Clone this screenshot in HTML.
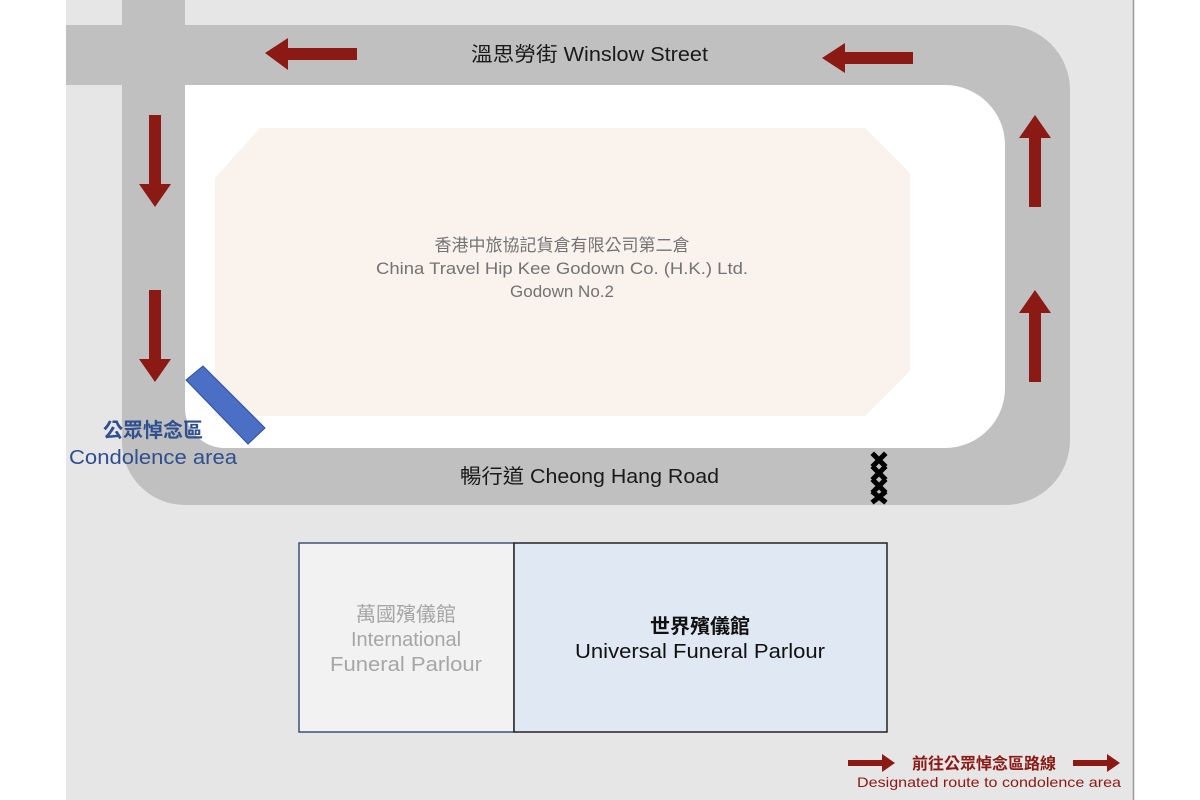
<!DOCTYPE html>
<html><head><meta charset="utf-8"><style>
html,body{margin:0;padding:0;background:#fff;}
svg{display:block;}
text{font-family:"Liberation Sans","Noto Sans CJK TC",sans-serif;}
</style></head><body>
<svg width="1200" height="800" viewBox="0 0 1200 800" xmlns="http://www.w3.org/2000/svg">
<rect x="66" y="0" width="1067" height="800" fill="#e7e6e7"/>
<line x1="1133.5" y1="0" x2="1133.5" y2="800" stroke="#999" stroke-width="1.5"/>
<path d="M122 25 H1005 A65 65 0 0 1 1070 90 V440 A65 65 0 0 1 1005 505 H185 A63 63 0 0 1 122 442 Z" fill="#c0c0c0"/>
<rect x="66" y="25" width="60" height="60" fill="#c0c0c0"/>
<rect x="122" y="0" width="63" height="30" fill="#c0c0c0"/>
<path d="M185 85 H945 A60 60 0 0 1 1005 145 V388 A60 60 0 0 1 945 448 H225 A40 40 0 0 1 185 408 Z" fill="#fff"/>
<polygon points="260,128 865,128 910,173 910,371 865,416 215,416 215,178" fill="#f9f2ed"/>
<g fill="#8b1a14">
<polygon points="265,53 288,38 288,48 357,48 357,60 288,60 288,70"/>
<polygon points="822,58 845,43 845,52 913,52 913,64 845,64 845,73"/>
<polygon points="149,115 161,115 161,184 171,184 155,207 139,184 149,184"/>
<polygon points="149,290 161,290 161,359 171,359 155,382 139,359 149,359"/>
<polygon points="1035,115 1051,138 1041,138 1041,207 1029,207 1029,138 1019,138"/>
<polygon points="1035,290 1051,313 1041,313 1041,382 1029,382 1029,313 1019,313"/>
<polygon points="848,760 882,760 882,754 895,763 882,772 882,766 848,766"/>
<polygon points="1073,760 1107,760 1107,754 1120,763 1107,772 1107,766 1073,766"/>
</g>
<polygon points="186,380 203,366 265,428 248,444" fill="#4a6fc4" stroke="#2f4f9a" stroke-width="1"/>
<g stroke="#000" stroke-width="5" stroke-linecap="square">
<path d="M874 455 L884 465 M884 455 L874 465"/>
<path d="M874 468 L884 478 M884 468 L874 478"/>
<path d="M874 481 L884 491 M884 481 L874 491"/>
<path d="M874 493 L884 501 M884 493 L874 501"/>
</g>
<rect x="299" y="543" width="215" height="189" fill="#f2f2f2" stroke="#3c5080" stroke-width="1.5"/>
<rect x="514" y="543" width="373" height="189" fill="#dfe8f3" stroke="#222" stroke-width="1.5"/>
<text x="471" y="61" font-size="20" fill="#1a1a1a" textLength="237" lengthAdjust="spacingAndGlyphs">溫思勞街 Winslow Street</text>
<text x="460" y="483" font-size="20" fill="#1a1a1a" textLength="259" lengthAdjust="spacingAndGlyphs">暢行道 Cheong Hang Road</text>
<g fill="#737373" font-size="17" text-anchor="middle">
<text x="562" y="251">香港中旅協記貨倉有限公司第二倉</text>
<text x="562" y="274" textLength="372" lengthAdjust="spacingAndGlyphs">China Travel Hip Kee Godown Co. (H.K.) Ltd.</text>
<text x="562" y="297">Godown No.2</text>
</g>
<g fill="#2f4f8f" font-size="20" text-anchor="middle">
<text x="153" y="437" font-weight="bold">公眾悼念區</text>
<text x="153" y="464" textLength="168" lengthAdjust="spacingAndGlyphs">Condolence area</text>
</g>
<g fill="#a6a6a6" font-size="20" text-anchor="middle">
<text x="406" y="621">萬國殯儀館</text>
<text x="406" y="646">International</text>
<text x="406" y="671" textLength="152" lengthAdjust="spacingAndGlyphs">Funeral Parlour</text>
</g>
<g fill="#111" font-size="20" text-anchor="middle">
<text x="700" y="633" font-weight="bold">世界殯儀館</text>
<text x="700" y="658" textLength="250" lengthAdjust="spacingAndGlyphs">Universal Funeral Parlour</text>
</g>
<text x="984" y="769" font-size="16" font-weight="bold" fill="#8b1a14" text-anchor="middle">前往公眾悼念區路線</text>
<text x="857" y="787" font-size="14" fill="#8b1a14" textLength="264" lengthAdjust="spacingAndGlyphs">Designated route to condolence area</text>
</svg>
</body></html>
